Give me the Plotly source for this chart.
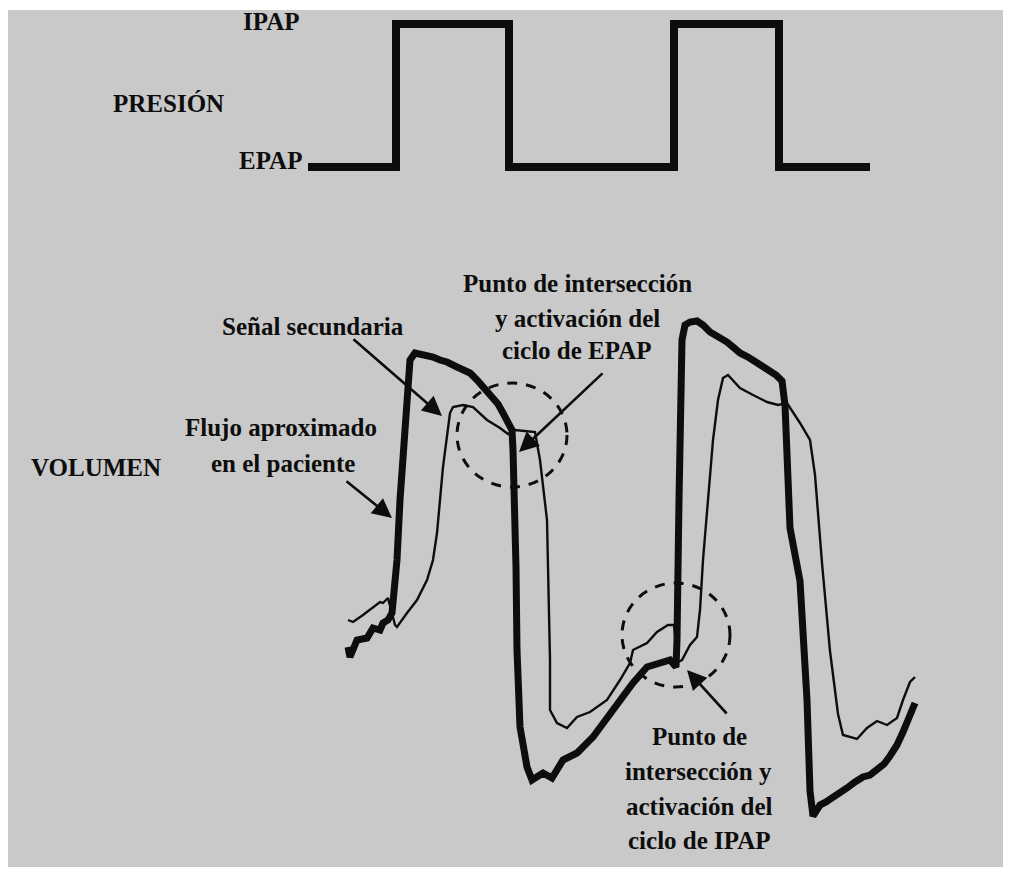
import plotly.graph_objects as go

# ---------------- data ----------------
# Pressure signal: transition times and levels (0 = EPAP, 1 = IPAP)
press_t = [308, 396, 509, 674, 779, 870]
press_level = [0, 1, 0, 1, 0, 0]

# Approximate patient flow (thick trace)
flow_t = [348, 350, 357, 362, 367, 373, 380, 383, 388, 392, 394, 397, 400, 404, 407, 410,
          415, 422, 427, 433, 440, 447, 457, 463, 470, 477, 483, 488, 493, 498, 503,
          508, 512, 513, 515, 516, 517, 520, 527, 532, 543, 552, 563, 577, 593, 610,
          623, 633, 647, 660, 670, 676, 677, 679, 681, 682, 685, 690, 697, 703, 710,
          718, 727, 733, 740, 748, 757, 764, 770, 776, 782, 785, 790, 800, 807, 810,
          813, 820, 826, 833, 840, 847, 855, 863, 870, 877, 884, 890, 897, 903, 909, 915]
flow_v = [233, 223, 240, 241, 242, 252, 250, 257, 260, 267, 287, 320, 380, 440, 480, 520,
          527, 526, 524, 523, 520, 518, 513, 510, 507, 500, 493, 489, 483, 476, 467,
          459, 450, 430, 380, 313, 230, 153, 113, 100, 107, 102, 120, 127, 143, 167,
          183, 197, 213, 218, 220, 213, 240, 380, 480, 540, 555, 558, 559, 555, 548,
          544, 538, 533, 527, 523, 517, 514, 510, 505, 499, 475, 352, 299, 180, 89,
          64, 75, 78, 82, 87, 92, 98, 103, 105, 110, 116, 124, 135, 148, 162, 177]

# Secondary signal (thin trace)
sec_t = [348, 353, 363, 373, 380, 383, 388, 395, 397, 407, 417, 427, 433, 437, 443, 450,
         453, 463, 473, 487, 500, 508, 515, 535, 540, 547, 549, 550, 550, 557, 567, 577,
         590, 607, 620, 630, 633, 647, 657, 668, 674, 678, 682, 690, 697, 700, 703, 708,
         713, 718, 723, 728, 740, 753, 767, 778, 787, 800, 810, 815, 822, 830, 838, 843,
         857, 867, 877, 887, 897, 903, 910, 915]
sec_v = [260, 258, 265, 273, 278, 277, 282, 255, 253, 267, 280, 300, 320, 347, 413, 467,
         473, 475, 473, 460, 452, 446, 450, 448, 420, 360, 280, 220, 170, 157, 152, 163,
         168, 180, 200, 217, 230, 237, 248, 255, 255, 218, 220, 235, 243, 270, 320, 380,
         440, 480, 502, 505, 492, 485, 478, 475, 477, 457, 440, 405, 317, 229, 166, 145,
         141, 152, 159, 155, 162, 180, 198, 203]

# Labels
BLACK = "#0d0d0d"
FONT = dict(family="Liberation Serif", size=25, color=BLACK, weight="bold")

side_labels = [("IPAP", 271, 859), ("PRESIÓN", 168, 777), ("EPAP", 270, 720),
               ("VOLUMEN", 96, 413)]
note_labels = [("Señal secundaria", 313, 554),
               ("Flujo aproximado", 281, 453), ("en el paciente", 283, 417),
               ("Punto de intersección", 577, 597), ("y activación del", 577, 562),
               ("ciclo de EPAP", 577, 530),
               ("Punto de", 699, 144), ("intersección y", 698, 109),
               ("activación del", 699, 74), ("ciclo de IPAP", 699, 40)]

# Arrows: (tip_t, tip_v, tail_t, tail_v)
arrows = [(442, 464, 352, 542),
          (392, 362, 345, 400),
          (519, 428, 604, 508),
          (687, 210, 728, 165)]

# Dashed circles marking the intersection points: (t0, t1, v0, v1)
circles = [(457, 567, 393, 497), (622, 730, 193, 297)]

# ---------------- figure ----------------
fig = go.Figure()

fig.add_trace(go.Scatter(x=press_t, y=press_level, mode="lines", line_shape="hv",
                         line=dict(color=BLACK, width=8), yaxis="y",
                         hoverinfo="skip", showlegend=False))
fig.add_trace(go.Scatter(x=sec_t, y=sec_v, mode="lines",
                         line=dict(color=BLACK, width=2.4), yaxis="y2",
                         hoverinfo="skip", showlegend=False))
fig.add_trace(go.Scatter(x=flow_t, y=flow_v, mode="lines",
                         line=dict(color=BLACK, width=7), yaxis="y2",
                         hoverinfo="skip", showlegend=False))

for txt, t, v in side_labels + note_labels:
    fig.add_annotation(x=t, y=v, xref="x", yref="y2", text=txt, showarrow=False,
                       font=FONT, xanchor="center", yanchor="middle")

for tip_t, tip_v, tail_t, tail_v in arrows:
    fig.add_annotation(x=tip_t, y=tip_v, xref="x", yref="y2",
                       ax=tail_t, ay=tail_v, axref="x", ayref="y2",
                       text="", showarrow=True, arrowhead=2, arrowsize=1.5,
                       arrowwidth=2.6, arrowcolor=BLACK, standoff=0)

for t0, t1, v0, v1 in circles:
    fig.add_shape(type="circle", xref="x", yref="y2", x0=t0, x1=t1, y0=v0, y1=v1,
                  line=dict(color=BLACK, width=3, dash="10px,9px"))

# The page body adds an 8px offset, so the figure is 8px smaller each way.
W, H = 1004, 867
fig.update_layout(
    width=W, height=H,
    margin=dict(l=0, r=9, t=2, b=8),
    paper_bgcolor="white", plot_bgcolor="#c9c9c9",
    xaxis=dict(range=[8, 1003], visible=False, showgrid=False, zeroline=False),
    yaxis=dict(range=[(167 - 867) / 143, 1 + (24 - 10) / 143], visible=False,
               showgrid=False, zeroline=False),
    yaxis2=dict(range=[13, 870], overlaying="y", visible=False,
                showgrid=False, zeroline=False),
)

fig.write_html("out.html")
